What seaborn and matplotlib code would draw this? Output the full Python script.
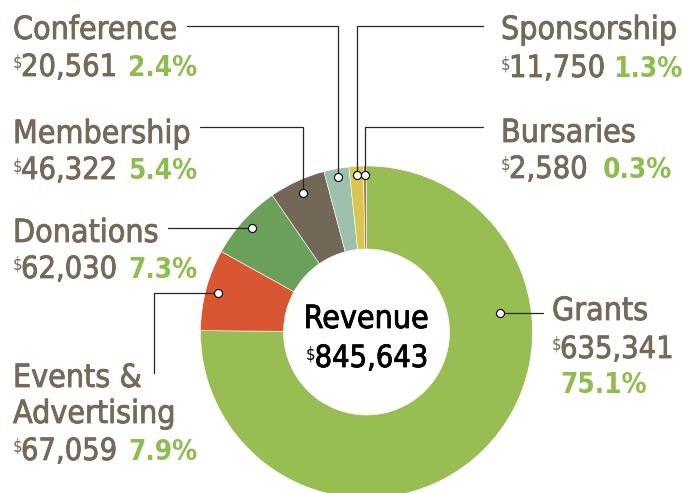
import numpy as np
import matplotlib
matplotlib.use("Agg")
import matplotlib.pyplot as plt
import matplotlib.patheffects as pe
import seaborn as sns

# revenue breakdown, in drawing order (clockwise from 12 o'clock)
categories = ["Grants", "Events &\nAdvertising", "Donations", "Membership",
              "Conference", "Sponsorship", "Bursaries"]
amounts = [635341, 67059, 62030, 46322, 20561, 11750, 2580]
amount_labels = ["635,341", "67,059", "62,030", "46,322", "20,561", "11,750", "2,580"]
pct_labels = ["75.1%", "7.9%", "7.3%", "5.4%", "2.4%", "1.3%", "0.3%"]
total_label = "845,643"
slice_colors = ["#97bd53", "#d85631", "#6ba05a", "#736757", "#9dc0ad", "#d7c650", "#ae7a50"]

TEXT = "#756a5a"
PCT = "#8dbd4f"
LINE = "#262626"

sns.set_theme(style="white")
plt.rcParams['font.family'] = ['DejaVu Sans Condensed', 'Liberation Sans Narrow', 'DejaVu Sans']
plt.rcParams['font.stretch'] = 'condensed'

fig = plt.figure(figsize=(6.83, 4.93), dpi=100)
ax = fig.add_axes([0, 0, 1, 1])

cx, cy, R = 366.5, 332, 166
# y axis is flipped below, so start at -90 and go counterclockwise in data space
wedges, _ = ax.pie(amounts, colors=slice_colors, startangle=-90, counterclock=True,
                   center=(cx, cy), radius=R,
                   wedgeprops=dict(width=R * 0.5, edgecolor="white", linewidth=0.4))
ax.set_xlim(0, 683)
ax.set_ylim(493, 0)
ax.set_aspect("equal")
ax.axis("off")

# where the marker dot sits inside each slice (radius fraction, optional angle)
dot_r = [0.81, 0.925, 0.93, 0.92, 0.95, 0.95, 0.945]
dot_ang = [-8, None, None, None, None, None, None]
dots = []
for w, rf, ang in zip(wedges, dot_r, dot_ang):
    a = (w.theta1 + w.theta2) / 2 if ang is None else ang
    a = np.radians(a)
    dots.append((cx + rf * R * np.cos(a), cy + rf * R * np.sin(a)))

# leader lines: list of points leading to the dot
legs = [
    [(543, None)],            # Grants: horizontal to the right
    [(154, 373), (154, None)],  # Events: down the left
    [(168, None)],            # Donations
    [(200, 127), (None, 127)],  # Membership
    [(187, 26), (None, 26)],  # Conference
    [(483, 26), (None, 26)],  # Sponsorship
    [(483, 127), (None, 127)],  # Bursaries
]
for (dx, dy), pts in zip(dots, legs):
    xs, ys = [], []
    for px, py in pts:
        xs.append(dx if px is None else px)
        ys.append(dy if py is None else py)
    xs.append(dx)
    ys.append(dy)
    ax.plot(xs, ys, color=LINE, lw=0.9, solid_joinstyle="miter", zorder=3)
    ax.plot(dx, dy, "o", ms=5.8, mfc="white", mec="black", mew=0.8, zorder=4)

# label anchors: x, name baseline, amount baseline, percent x
anchors = [
    (552, 320, 358, 560),
    (13, 387, 460, 128),
    (13, 242, 278, 128),
    (13, 143, 179, 128),
    (13, 39, 76, 128),
    (501, 39, 77, 613),
    (501, 142, 178, 603),
]

fig.canvas.draw()
renderer = fig.canvas.get_renderer()
inv = ax.transData.inverted()


def heavy(color):
    # slightly thicker strokes, the original font is a medium weight
    return [pe.withStroke(linewidth=0.6, foreground=color)]


for i, (x, yb, nb, pxx) in enumerate(anchors):
    lines = categories[i].split("\n")
    for k, ln in enumerate(lines):
        ax.text(x, yb + k * 36, ln, fontsize=23, color=TEXT, va="baseline", ha="left",
                path_effects=heavy(TEXT))
    ax.text(x, nb - 22, "$", fontsize=12, color=TEXT, va="top", ha="left")
    t = ax.text(x + 8, nb, amount_labels[i], fontsize=22, color=TEXT, va="baseline", ha="left",
                path_effects=heavy(TEXT))
    if i == 0:
        ax.text(pxx, 393, pct_labels[i], fontsize=20, color=PCT, fontweight="bold",
                va="baseline", ha="left")
    else:
        bb = t.get_window_extent(renderer)
        x1 = inv.transform((bb.x1, bb.y0))[0]
        ax.text(max(pxx, x1 + 6), nb, pct_labels[i], fontsize=20, color=PCT, fontweight="bold",
                va="baseline", ha="left")

# centre of the donut
ax.text(cx, 328, "Revenue", fontsize=23, color="black", va="baseline", ha="center",
        path_effects=heavy("black"))
tt = ax.text(cx + 5, 367, total_label, fontsize=22, color="black", va="baseline", ha="center",
             path_effects=heavy("black"))
bb = tt.get_window_extent(renderer)
x0 = inv.transform((bb.x0, bb.y0))[0]
ax.text(x0 - 9, 367 - 22, "$", fontsize=12, color="black", va="top", ha="left")

fig.savefig("out.png", dpi=100)
